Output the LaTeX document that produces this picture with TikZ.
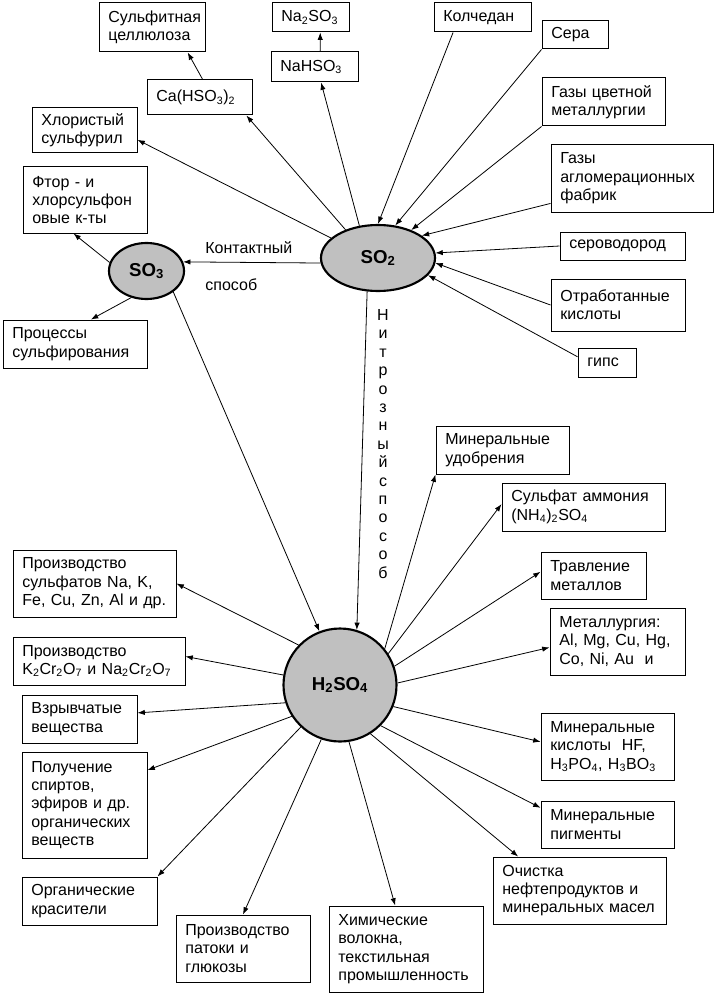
\documentclass[tikz,border=0pt]{standalone}
\usepackage{fontspec}
\setmainfont{Liberation Sans}
\usetikzlibrary{shapes.geometric,arrows.meta}
\definecolor{ovalgray}{RGB}{192,192,192}
\tikzset{
    box/.style={draw, rectangle, align=left, inner xsep=7pt, inner ysep=2pt, line width=0.75pt, font=\fontsize{12}{13.8}\selectfont},
    oval/.style={draw, ellipse, fill=ovalgray, line width=1.6pt, inner sep=0pt, font=\fontsize{14}{16}\selectfont\bfseries},
    lbl/.style={inner sep=0pt, font=\fontsize{12}{13.8}\selectfont},
}

\begin{document}
\begin{tikzpicture}[x=0.75pt,y=-0.75pt,>={Latex[length=5.5pt,width=4pt]},line width=0.6pt]
    \useasboundingbox (0,0) rectangle (717,995);
    % main substances
    \node[oval, minimum width=85.5pt, minimum height=49.5pt] (so2) at (378,258) {SO\textsubscript{2}};
    \node[oval, minimum width=56.25pt, minimum height=42pt] (so3) at (146.5,271) {SO\textsubscript{3}};
    \node[oval, circle, minimum size=84.75pt] (h2so4) at (340,685) {H\textsubscript{2}SO\textsubscript{4}};
    % products of SO2 and SO3
    \node[box, text width=65.5pt, minimum height=36.75pt] (sulfit) at (152,27.5) {Сульфитная\\целлюлоза};
    \node[box, text width=43.75pt, minimum height=21.75pt] (na2so3) at (310.5,17.5) {Na\textsubscript{2}SO\textsubscript{3}};
    \node[box, text width=51.25pt, minimum height=22.5pt] (nahso3) at (314.5,67) {NaHSO\textsubscript{3}};
    \node[box, text width=64.75pt, minimum height=26.25pt] (ca) at (199.5,97.5) {Ca(HSO\textsubscript{3})\textsubscript{2}};
    \node[box, text width=64.75pt, minimum height=33.75pt] (chlor) at (84.5,130.5) {Хлористый\\сульфурил};
    \node[box, text width=79pt, minimum height=49.5pt] (ftor) at (85,200) {Фтор - и\\хлорсульфон\\овые к-ты};
    \node[box, text width=94pt, minimum height=36pt] (sulfir) at (75,344) {Процессы\\сульфирования};
    % sources of SO2
    \node[box, text width=58.75pt, minimum height=21.75pt] (kolch) at (482.5,17.5) {Колчедан};
    \node[box, text width=35.5pt, minimum height=21pt] (sera) at (575,35) {Сера};
    \node[box, text width=78.25pt, minimum height=36pt] (gaz1) at (603.5,102) {Газы цветной\\металлургии};
    \node[box, text width=107.5pt, minimum height=50.25pt] (gaz2) at (632,178.5) {Газы\\агломерационных\\фабрик};
    \node[box, text width=79.75pt, minimum height=21pt] (h2s) at (622.5,246) {сероводород};
    \node[box, text width=86.5pt, minimum height=39pt] (otrab) at (618,305) {Отработанные\\кислоты};
    \node[box, text width=29.5pt, minimum height=21.75pt] (gips) at (607,362.5) {гипс};
    % uses of H2SO4
    \node[box, text width=85.75pt, minimum height=36pt] (udobr) at (502.5,450) {Минеральные\\удобрения};
    \node[box, text width=108.25pt, minimum height=36pt] (ammon) at (583.5,507) {Сульфат аммония\\(NH\textsubscript{4})\textsubscript{2}SO\textsubscript{4}};
    \node[box, text width=64.75pt, minimum height=35.25pt] (travl) at (593.5,575.5) {Травление\\металлов};
    \node[box, text width=87.25pt, minimum height=50.25pt] (metall) at (617.5,641.5) {Металлургия:\\Al, Mg, Cu, Hg,\\Co, Ni, Au\ \ и};
    \node[box, text width=85.75pt, minimum height=50.25pt] (kisl) at (607.5,746.5) {Минеральные\\кислоты\ \ HF,\\H\textsubscript{3}PO\textsubscript{4}, H\textsubscript{3}BO\textsubscript{3}};
    \node[box, text width=85.75pt, minimum height=35.25pt] (pigm) at (607.5,824.5) {Минеральные\\пигменты};
    \node[box, text width=115.75pt, minimum height=50.25pt] (ochist) at (579.5,890.5) {Очистка\\нефтепродуктов и\\минеральных масел};
    \node[box, text width=101.5pt, minimum height=64.5pt] (himvol) at (406,949) {Химические\\волокна,\\текстильная\\промышленность};
    \node[box, text width=86.5pt, minimum height=50.25pt] (patoka) at (243,948.5) {Производство\\патоки и\\глюкозы};
    \node[box, text width=87.25pt, minimum height=36pt] (krasit) at (89.5,901) {Органические\\красители};
    \node[box, text width=79.75pt, minimum height=79.5pt] (spirt) at (84.5,805) {Получение\\спиртов,\\эфиров и др.\\органических\\веществ};
    \node[box, text width=72.25pt, minimum height=36pt] (vzryv) at (79.5,719) {Взрывчатые\\вещества};
    \node[box, text width=115pt, minimum height=36pt] (hrom) at (99,661) {Производство\\K\textsubscript{2}Cr\textsubscript{2}O\textsubscript{7} и Na\textsubscript{2}Cr\textsubscript{2}O\textsubscript{7}};
    \node[box, text width=108.25pt, minimum height=50.25pt] (sulfat) at (94.5,583.5) {Производство\\сульфатов Na, K,\\Fe, Cu, Zn, Al и др.};
    % method labels
    \node[lbl, anchor=west] (kontakt) at (205,248) {Контактный};
    \node[lbl, anchor=west] (sposob) at (205,285) {способ};
    \node[lbl, align=center, anchor=north] (nitroz) at (383,309) {Н\\и\\т\\р\\о\\з\\н\\ы\\й\\с\\п\\о\\с\\о\\б};
    % from SO2
    \draw[->] (so2.120) -- (nahso3.-67);
    \draw[->] (nahso3.70) -- (na2so3.-57);
    \draw[->] (so2.139) -- (ca.-21);
    \draw[->] (ca.80) -- (sulfit.-35);
    \draw[->] (so2.157) -- (chlor.-10);
    \draw[->] (so2.185) -- (so3.14);
    \draw[->] (so2.252) -- (h2so4.73);
    % from SO3
    \draw[->] (so3.167) -- (ftor.-109);
    \draw[->] (so3.240) -- (sulfir.57);
    \draw[->] (so3.-38) -- (h2so4.111);
    % into SO2
    \draw[->] (kolch.207) -- (so2.90);
    \draw[->] (sera.south west) -- (so2.62);
    \draw[->] (gaz1.south west) -- (so2.40);
    \draw[->] (gaz2.197) -- (so2.27);
    \draw[->] (h2s.west) -- (so2.5);
    \draw[->] (otrab.west) -- (so2.-5);
    \draw[->] (gips.169) -- (so2.-19);
    % from H2SO4
    \draw[->] (h2so4.39) -- (udobr.south west);
    \draw[->] (h2so4.33) -- (ammon.178);
    \draw[->] (h2so4.19) -- (travl.176);
    \draw[->] (h2so4.2) -- (metall.185);
    \draw[->] (h2so4.-22) -- (kisl.176);
    \draw[->] (h2so4.-45) -- (pigm.166);
    \draw[->] (h2so4.-58) -- (ochist.151);
    \draw[->] (h2so4.-81) -- (himvol.104);
    \draw[->] (h2so4.251) -- (patoka.north);
    \draw[->] (h2so4.227) -- (krasit.north east);
    \draw[->] (h2so4.213) -- (spirt.29);
    \draw[->] (h2so4.198) -- (vzryv.6);
    \draw[->] (h2so4.170) -- (hrom.3);
    \draw[->] (h2so4.136) -- (sulfat.east);
\end{tikzpicture}
\end{document}
